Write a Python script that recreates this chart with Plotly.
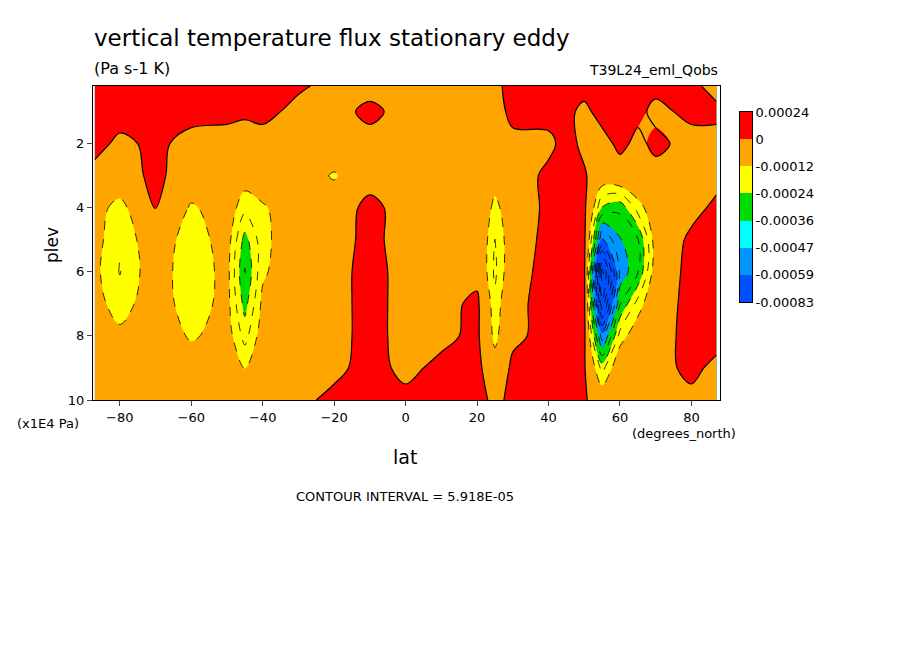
import plotly.graph_objects as go

# data in units of 1e-4 Pa s-1 K
lats = [-87, -80, -70, -60, -50, -45, -40, -30, -20, -10, 0, 10, 20, 25, 30, 40, 45, 50, 55, 60, 65, 70, 80, 87]
plevs = [0.2, 1, 2, 3, 4, 5, 6, 7, 8, 9, 10]
flux = [
    [0.5, 0.5, 0.5, 0.5, 0.5, 0.3, 0.2, 0.1, -0.2, -0.3, -0.3, -0.3, -0.2, -0.2, 0.3, 0.3, 0.3, 0.3, 0.3, 0.3, 0.3, 0.2, 0.2, -0.3],
    [0.5, 0.4, 0.4, 0.3, 0.2, 0.1, 0.2, -0.2, -0.3, 0.2, -0.3, -0.3, -0.2, -0.3, 0.2, 0.3, 0.2, -0.2, 0.3, 0.2, 0.2, -0.2, 0.2, 0.2],
    [0.3, -0.2, 0.2, -0.3, -0.3, -0.3, -0.3, -0.3, -0.3, -0.3, -0.3, -0.3, -0.3, -0.3, -0.2, -0.2, 0.3, -0.2, -0.3, 0.2, -0.2, 0.2, -0.3, -0.3],
    [-0.3, -0.4, 0.2, -0.5, -0.5, -0.8, -0.5, -0.5, -1.3, -0.3, -0.2, -0.3, -0.3, -0.8, -0.5, 0.2, 0.2, 0.1, -0.6, -0.4, -0.3, -0.3, -0.2, -0.3],
    [-0.8, -1.5, 0.05, -1.3, -0.7, -1.6, -1.3, -0.5, -0.4, 0.2, -0.3, -0.3, -0.3, -1.4, -0.6, 0.2, 0.3, 0.2, -2.4, -2.8, -1.5, -0.6, -0.3, 0.2],
    [-0.9, -1.7, -0.6, -1.6, -0.8, -2.6, -1.4, -0.5, -0.3, 0.2, -0.3, -0.3, -0.3, -1.8, -0.6, 0.3, 0.5, 0.2, -4.8, -3.6, -3.0, -0.8, 0.2, 0.3],
    [-1.0, -1.8, -0.7, -1.7, -0.9, -3.0, -1.3, -0.5, -0.3, 0.3, -0.3, -0.3, -0.3, -1.9, -0.5, 0.4, 0.6, 0.2, -8.0, -4.0, -3.0, -0.7, 0.3, 0.3],
    [-0.9, -1.5, -0.7, -1.6, -0.9, -2.6, -1.0, -0.5, -0.3, 0.3, -0.3, -0.3, 0.2, -1.6, -0.3, 0.4, 0.5, 0.2, -7.0, -3.0, -1.5, -0.5, 0.3, 0.3],
    [-0.6, -1.0, -0.5, -1.3, -0.8, -2.0, -0.8, -0.4, -0.3, 0.3, -0.3, -0.2, 0.2, -1.4, -0.2, 0.3, 0.4, 0.2, -4.5, -1.5, -0.7, -0.4, 0.3, 0.3],
    [-0.4, -0.3, -0.3, -0.6, -0.6, -1.2, -0.4, -0.3, -0.2, 0.3, -0.2, 0.2, 0.3, -0.8, 0.2, 0.3, 0.3, 0.1, -2.0, -0.5, -0.3, -0.3, 0.2, -0.2],
    [-0.2, -0.2, -0.2, -0.2, -0.3, -0.3, -0.2, -0.2, 0.2, 0.3, 0.2, 0.3, 0.3, -0.2, 0.2, 0.3, 0.3, 0.1, -0.5, -0.3, -0.2, -0.2, -0.2, -0.2],
]

band_colors = ["#0050ff", "#0096ff", "#00ffff", "#00dc00", "#ffff00", "#ffa500", "#ff0000"]
band_labels = ["-0.00083", "-0.00059", "-0.00047", "-0.00036", "-0.00024", "-0.00012", "0", "0.00024"]

step = 1.1836
zmin, zmax = -7.1 - step, 2 * step
# plotly paints each filled band with the colour of the band above it
cols9 = [band_colors[0], band_colors[0]] + band_colors
cs = []
for i, c in enumerate(cols9):
    cs.append([i / 9, c])
    cs.append([(i + 1) / 9, c])

FONT = "DejaVu Sans"
fig = go.Figure()

fig.add_trace(go.Contour(
    x=lats, y=plevs, z=flux, zmin=zmin, zmax=zmax, zauto=False,
    colorscale=cs, showscale=False,
    contours=dict(coloring="fill", start=-7.1, end=step, size=step),
    line=dict(width=0), hoverinfo="skip"))
# dashed negative contours
fig.add_trace(go.Contour(
    x=lats, y=plevs, z=flux, showscale=False,
    contours=dict(coloring="none", start=-8.28, end=-0.59, size=0.5918),
    line=dict(color="black", width=0.8, dash="dash"), hoverinfo="skip"))
# solid zero contour
fig.add_trace(go.Contour(
    x=lats, y=plevs, z=flux, showscale=False,
    contours=dict(coloring="none", start=0, end=0.1, size=1),
    line=dict(color="black", width=1.2), hoverinfo="skip"))

# colour key
fig.add_trace(go.Heatmap(
    z=[[i] for i in range(7)], x=[0], y=list(range(7)),
    colorscale=[[i / 6, c] for i, c in enumerate(band_colors)],
    showscale=False, xaxis="x2", yaxis="y2", hoverinfo="skip"))

W, H = 904, 654
OFF = 8  # page body offset
L, T, B = 93 - OFF, 86 - OFF, 254 + OFF
pw = W - L - 100
main_frac = (720 - 93) / pw


def px(x):
    return (x - 93) / pw


def py(y):
    return (400 - y) / (400 - 86)


fig.update_layout(
    width=W, height=H, margin=dict(l=L, r=100, t=T, b=B),
    paper_bgcolor="white", plot_bgcolor="white",
    font=dict(family=FONT, size=13, color="black"),
    showlegend=False,
    xaxis=dict(domain=[0, main_frac], range=[-87.5, 88], tickvals=[-80, -60, -40, -20, 0, 20, 40, 60, 80],
               ticks="outside", ticklen=5, showline=True, linecolor="black", mirror=True,
               showgrid=False, zeroline=False, tickfont=dict(size=13)),
    yaxis=dict(range=[10, 0.2], tickvals=[2, 4, 6, 8, 10], ticks="outside", ticklen=5,
               showline=True, linecolor="black", mirror=True, showgrid=False, zeroline=False,
               tickfont=dict(size=13)),
    xaxis2=dict(domain=[px(740), px(752)], anchor="y2", showticklabels=False, ticks="",
                showgrid=False, zeroline=False, showline=True, linecolor="black", mirror=True),
    yaxis2=dict(domain=[py(302), py(112)], anchor="x2", side="right", range=[-0.5, 6.5],
                tickvals=[i - 0.5 for i in range(8)], ticktext=band_labels, ticks="",
                showgrid=False, zeroline=False, showline=True, linecolor="black", mirror=True,
                tickfont=dict(size=13)),
)

ann = [
    (92, 38, "vertical temperature flux stationary eddy", 23, "left"),
    (92, 68, "(Pa s-1 K)", 16, "left"),
    (720, 70, "T39L24_eml_Qobs", 14, "right"),
    (15, 423, "(x1E4 Pa)", 13, "left"),
    (738, 433, "(degrees_north)", 13, "right"),
    (405, 457, "lat", 19, "center"),
    (405, 496, "CONTOUR INTERVAL = 5.918E-05", 13, "center"),
]
for x, y, t, s, a in ann:
    fig.add_annotation(x=px(x), y=py(y), xref="paper", yref="paper", text=t, showarrow=False,
                       xanchor=a, yanchor="middle", font=dict(size=s, family=FONT))
fig.add_annotation(x=px(40), y=py(245), xref="paper", yref="paper", text="plev", showarrow=False,
                   textangle=-90, font=dict(size=17, family=FONT))

fig.write_html("out.html")
